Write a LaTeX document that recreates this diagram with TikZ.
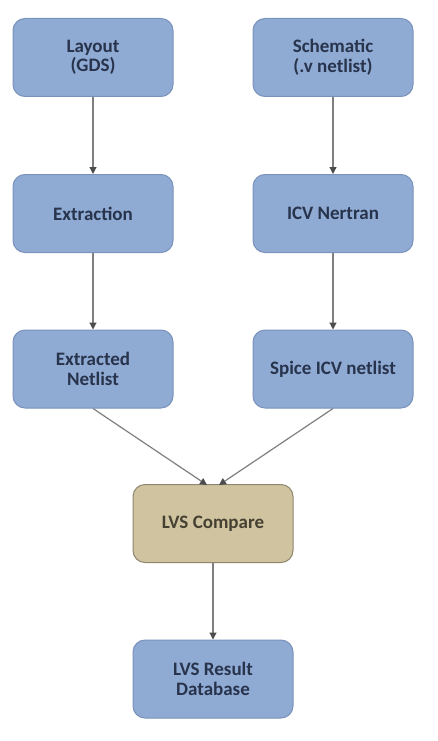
\documentclass[tikz,border=0pt]{standalone}
\usepackage{fontspec}
\setmainfont{Carlito}
\usetikzlibrary{arrows.meta}
\definecolor{bfill}{HTML}{8FAAD3}
\definecolor{bdraw}{HTML}{7A93BC}
\definecolor{btext}{HTML}{28334C}
\definecolor{tfill}{HTML}{D0C4A0}
\definecolor{tdraw}{HTML}{8E866F}
\definecolor{ttext}{HTML}{454032}
\definecolor{lnc}{HTML}{7F7F7F}
\begin{document}
\begin{tikzpicture}[x=1pt,y=-1pt,
  box/.style={draw=bdraw, fill=bfill, line width=1pt, rounded corners=12pt,
    minimum width=160pt, minimum height=78pt, align=center, text=btext,
    font=\fontsize{19}{19.5}\selectfont\bfseries, inner sep=0pt},
  tbox/.style={box, draw=tdraw, fill=tfill, text=ttext},
  conn/.style={draw=lnc, line width=1.2pt, -{Triangle[length=7pt,width=7pt,fill=black!70,color=black!70]}}]
\useasboundingbox (0,0) rectangle (437,741);
\fill[white] (0,0) rectangle (437,741);
\node[box] (lay) at (93,57.5) {Layout\\(GDS)};
\node[box] (sch) at (333,57.5) {Schematic\\(.v netlist)};
\node[box] (ext) at (93,213.5) {Extraction};
\node[box] (icv) at (333,213.5) {ICV Nertran};
\node[box] (enl) at (93,369) {Extracted\\Netlist};
\node[box] (spc) at (333,369) {Spice ICV netlist};
\node[tbox] (cmp) at (213,523.5) {LVS Compare};
\node[box] (res) at (213,679) {LVS Result\\Database};
\coordinate (c1) at (207,485);
\coordinate (c2) at (219,485);
\draw[conn] (lay) -- (ext);
\draw[conn] (sch) -- (icv);
\draw[conn] (ext) -- (enl);
\draw[conn] (icv) -- (spc);
\draw[conn] (enl.south) -- (c1);
\draw[conn] (spc.south) -- (c2);
\draw[conn] (cmp) -- (res);
\end{tikzpicture}
\end{document}
